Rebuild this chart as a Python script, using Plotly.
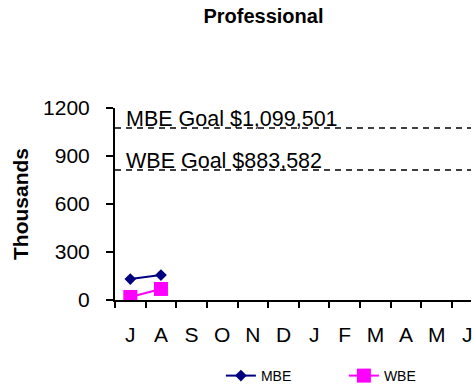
import plotly.graph_objects as go

months = ["J", "A", "S", "O", "N", "D", "J", "F", "M", "A", "M", "J"]
mbe_values = [131, 156]
wbe_values = [19, 69]
mbe_goal = 1099501
wbe_goal = 883582
mbe_goal_line = 1075  # drawn position of goal line (thousands)
wbe_goal_line = 812
y_ticks = [0, 300, 600, 900, 1200]

FONT = "Liberation Sans, Arial, sans-serif"
x_idx = list(range(len(months)))

fig = go.Figure()
fig.add_trace(go.Scatter(
    x=x_idx[:len(mbe_values)], y=mbe_values, name="MBE", mode="lines+markers",
    line=dict(color="#000080", width=2),
    marker=dict(symbol="diamond", size=9, color="#000080"),
))
fig.add_trace(go.Scatter(
    x=x_idx[:len(wbe_values)], y=wbe_values, name="WBE", mode="lines+markers",
    line=dict(color="#FF00FF", width=2),
    marker=dict(symbol="square", size=14, color="#FF00FF"),
))

for gl, goal, lab in [(mbe_goal_line, mbe_goal, "MBE"), (wbe_goal_line, wbe_goal, "WBE")]:
    fig.add_shape(type="line", xref="paper", x0=0, x1=1, yref="y", y0=gl, y1=gl,
                  line=dict(color="black", width=1.5, dash="6px,5px"), layer="below")
    fig.add_annotation(xref="paper", x=0.025, xanchor="left", yref="y", y=gl,
                       yanchor="bottom", yshift=-5, showarrow=False,
                       text=f"{lab} Goal ${goal:,}",
                       font=dict(family=FONT, size=21.5, color="black"))

fig.update_layout(
    width=473, height=388,
    margin=dict(l=115, r=0, t=108, b=88),
    paper_bgcolor="white", plot_bgcolor="white",
    font=dict(family=FONT, color="black"),
    title=dict(text="<b>Professional</b>", xref="container", x=0.557, xanchor="center",
               yref="container", y=1 - 16 / 388, yanchor="middle",
               font=dict(family=FONT, size=20, color="black")),
    showlegend=True,
    legend=dict(orientation="h", xref="container", x=0.467, xanchor="left",
                yref="container", y=1 - 376 / 388, yanchor="middle",
                font=dict(family=FONT, size=14, color="black"),
                entrywidth=78, entrywidthmode="pixels",
                bgcolor="rgba(0,0,0,0)"),
)

fig.update_xaxes(
    range=[-0.5, 11.12], tickmode="array", tickvals=x_idx, ticktext=months,
    ticks="", showgrid=False, zeroline=False,
    showline=True, linecolor="black", linewidth=2,
    tickfont=dict(family=FONT, size=21, color="black"),
    ticklabelstandoff=15, ticklabeloverflow="allow",
    minor=dict(tickmode="linear", tick0=-0.5, dtick=1, ticks="outside",
               ticklen=6, tickwidth=1.5, tickcolor="black", showgrid=False),
    fixedrange=True,
)
fig.update_yaxes(
    range=[0, 1200], tickmode="array", tickvals=y_ticks,
    ticks="outside", ticklen=7, tickwidth=1.5, tickcolor="black",
    ticklabelstandoff=12,
    showgrid=False, zeroline=False,
    showline=True, linecolor="black", linewidth=2,
    tickfont=dict(family=FONT, size=21, color="black"),
    title=dict(text="<b>Thousands</b>", standoff=9,
               font=dict(family=FONT, size=21, color="black")),
    fixedrange=True,
)

fig.write_html("out.html", config={"displayModeBar": False},
               post_script="document.body.style.margin='0';document.body.style.overflow='hidden';")
